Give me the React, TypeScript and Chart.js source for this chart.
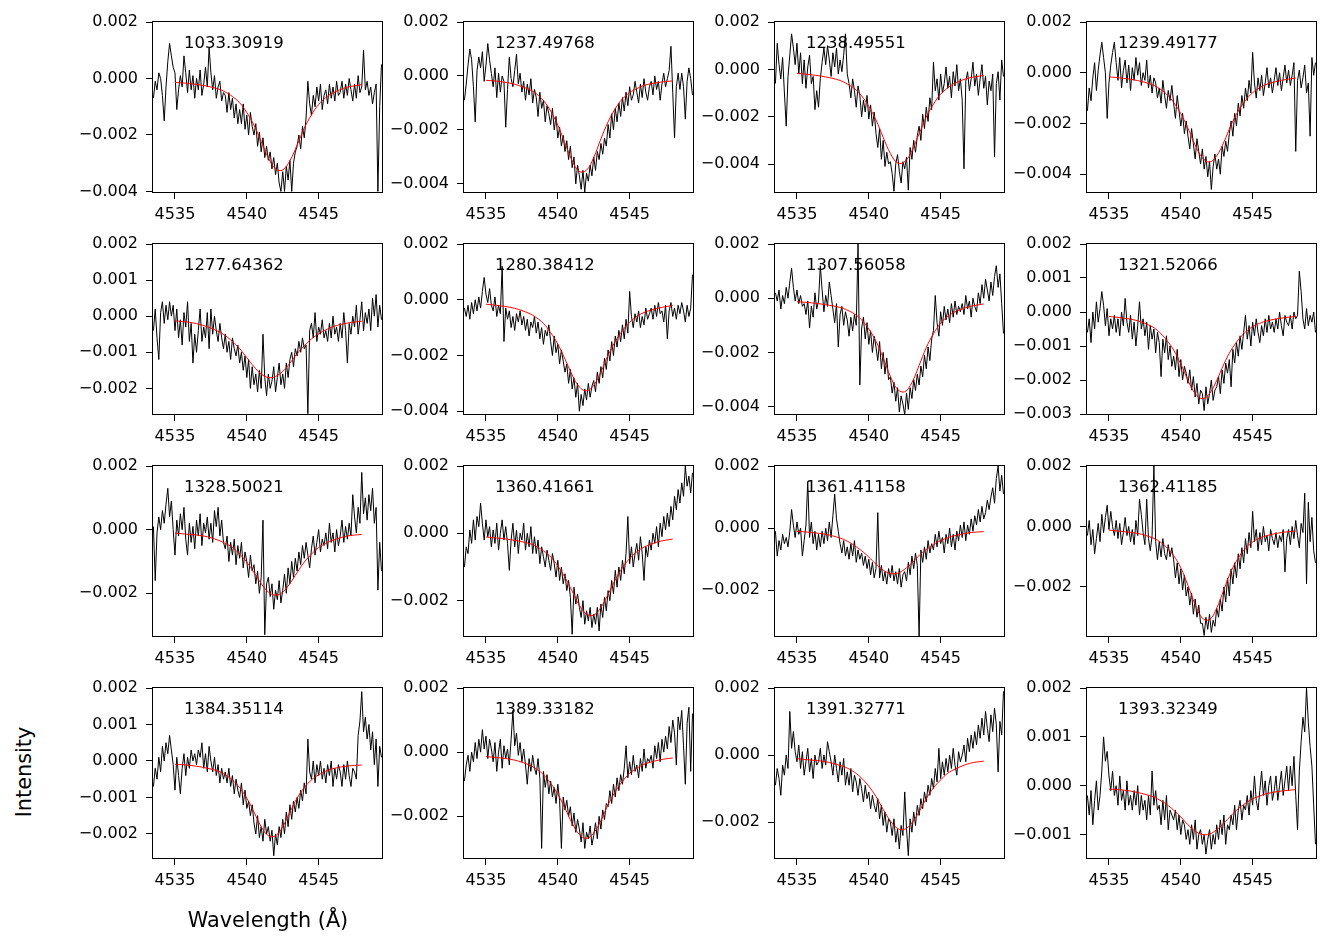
import React, { useEffect, useRef } from "react";
import { Chart, registerables } from "chart.js";

Chart.register(...registerables);

// ---------------- data ----------------
// wavelength grid of the observed spectra (Å)
const WAVE_START = 4533.5;
const WAVE_STEP = 0.125;
const X_MIN = 4533.47;
const X_MAX = 4549.41;
const X_TICKS = [4535, 4540, 4545];

// epochs shown in each panel
const EPOCHS = [
  "1033.30919", "1237.49768", "1238.49551", "1239.49177",
  "1277.64362", "1280.38412", "1307.56058", "1321.52066",
  "1328.50021", "1360.41661", "1361.41158", "1362.41185",
  "1384.35114", "1389.33182", "1391.32771", "1393.32349",
];

// lower y-limits of each panel (upper limit is 0.002 everywhere)
const Y_MINS = [
  -0.00402, -0.0043, -0.00518, -0.0047,
  -0.00271, -0.0041, -0.00427, -0.003,
  -0.00334, -0.00305, -0.00347, -0.00362,
  -0.00266, -0.0033, -0.00307, -0.00148,
];
const Y_MAX = 0.002;

const TICKS_A = [-0.004, -0.002, 0, 0.002];
const TICKS_B = [-0.002, -0.001, 0, 0.001, 0.002];
const TICKS_C = [-0.003, -0.002, -0.001, 0, 0.001, 0.002];
const TICKS_D = [-0.002, 0, 0.002];
const TICKS_E = [-0.001, 0, 0.001, 0.002];
const Y_TICK_SETS = [
  TICKS_A, TICKS_A, TICKS_A, TICKS_A,
  TICKS_B, TICKS_A, TICKS_A, TICKS_C,
  TICKS_D, TICKS_D, TICKS_D, TICKS_D,
  TICKS_B, TICKS_D, TICKS_D, TICKS_E,
];

// observed intensities, units of 1e-5
const SPEC_01 = [
  -70, -10, -40, 20, 0, -60, -150, -30,
  60, 124, 80, 40, 20, -110, -40, 10,
  -30, 80, 20, -50, 30, -40, 10, -70,
  0, -40, 30, -60, -20, 40, -30, 110,
  20, -40, 10, -70, -30, -10, -80, -50,
  -60, -120, -50, -110, -70, -140, -90, -160,
  -110, -160, -90, -180, -130, -200, -120, -170,
  -200, -160, -240, -190, -260, -210, -280, -240,
  -290, -260, -320, -280, -340, -300, -370, -400,
  -330, -400, -310, -360, -290, -400, -300, -260,
  -240, -200, -250, -170, -210, -140, -10, -90,
  -130, -60, -100, -30, -80, -20, -110, -60,
  -40, -90, -20, -70, -30, -80, -10, -60,
  -50, -10, -70, -20, -60, 0, -40, -80,
  -20, -70, 10, -50, -30, 100, -40, -10,
  -60, -30, -90, -50, -20, -400, -100, 50,
];
const SPEC_02 = [
  -90, -30, 40, 100, 60, -40, -170, 20,
  70, 30, 90, -20, 40, 120, 60, 10,
  -40, 30, -80, 10, -60, 0, -20, -190,
  -50, 70, -10, -40, 20, 80, -30, 10,
  -60, -20, -90, -30, -70, -10, -100, -50,
  -80, -150, -60, -120, -90, -170, -110, -140,
  -180, -120, -200, -150, -230, -190, -260, -220,
  -280, -240, -310, -260, -340, -300, -400, -330,
  -370, -420, -350, -430, -360, -390, -330, -370,
  -300, -350, -280, -310, -250, -290, -230, -260,
  -180, -230, -140, -200, -120, -170, -100, -150,
  -80, -130, -60, -110, -40, -90, -70, -20,
  -60, -100, -30, -80, -10, -60, -90, -40,
  -20, -70, 0, -50, -20, -90, -30, 10,
  -40, -10, 20, 110, -60, -230, -40, 10,
  -50, 10, -40, -160, -20, 30, -10, -70,
];
const SPEC_03 = [
  -60, 110, 20, -40, 50, -100, -240, -30,
  60, 150, 90, 20, 110, -20, 70, -60,
  40, -80, 10, 60, -60, -30, -170, -90,
  -160, -40, 30, 90, 20, 100, 40, -30,
  70, 10, 90, -20, 40, -10, 60, 150,
  -20, -60, -120, -40, -90, -160, -70, -110,
  -200, -130, -180, -110, -210, -150, -240, -180,
  -270, -330, -250, -380, -300, -410, -350, -400,
  -390, -440, -515, -400, -360, -430, -480, -390,
  -420, -370, -510, -330, -380, -300, -350, -280,
  -240, -300, -190, -250, -160, -220, -120, -170,
  30, -90, -40, -130, -20, -100, -60, 10,
  -80, -30, -120, -10, -70, 20, -90, -40,
  -130, -420, -50, -10, -90, -40, 30, -70,
  -20, -110, -40, 20, -80, -30, -150, -50,
  -90, -20, -370, -60, -10, -130, 40, -30,
];
const SPEC_04 = [
  -150, -60, -110, -20, 40, -70, 10, 70,
  120, 60, 0, -180, -40, 30, 80, 120,
  40, -30, 60, -60, 10, 50, -40, 30,
  -70, 20, -30, 60, -10, 40, -50, 0,
  -30, 50, -60, -10, -80, -20, -40, -100,
  -60, -120, -30, -90, -140, -70, -110, -50,
  -120, -180, -90, -150, -210, -160, -240, -190,
  -250, -300, -220, -280, -340, -260, -310, -360,
  -300, -380, -330, -410, -350, -460, -370, -320,
  -380, -340, -400, -290, -330, -270, -310, -240,
  -190, -250, -160, -210, -120, -170, -90, -140,
  -60, -110, -30, -80, 80, -40, -100, -20,
  -70, -10, -90, -40, 20, -60, -20, -80,
  -30, 20, -50, 0, -70, -20, 30, -40,
  10, -50, -10, 40, -310, -30, 10, -60,
  -20, 30, -80, -40, -250, 60, -10, 40,
];
const SPEC_05 = [
  -40, 20, -60, -120, 10, 40, -20, 30,
  -10, 40, 0, 30, -40, 20, -60, -10,
  -80, 10, -30, 40, -70, -20, -130, -50,
  -100, -40, 20, -70, -30, -60, 10, -90,
  20, -50, 0, -40, -70, -20, -60, -90,
  -50, -100, -70, -120, -60, -90, -110, -80,
  -130, -100, -150, -110, -170, -120, -200, -140,
  -190, -160, -210, -150, -200, -50, -170, -220,
  -160, -200, -180, -140, -210, -170, -130, -190,
  -160, -200, -130, -170, -120, -100, -140, -90,
  -110, -70, -100, -60, -90, -80, -270, -40,
  -20, -60, 10, -70, -30, -50, -10, -60,
  -40, -70, -20, -60, 0, -50, -30, -70,
  -20, -60, 10, -40, -130, -20, -50, 0,
  -30, 30, -50, -10, 40, -40, 10, -20,
  20, -40, 50, 0, 60, -30, 30, -10,
];
const SPEC_06 = [
  -30, -60, -20, -70, -10, -50, 0, -40,
  10, -30, 30, 80, 20, -10, 40, -20,
  -40, 10, -60, -20, -50, 120, -150, -30,
  -70, -40, -100, -60, -110, -50, -80, -40,
  -90, -60, -110, -70, -130, -80, -100, -60,
  -120, -80, -140, -100, -160, -110, -130, -90,
  -150, -200, -130, -190, -160, -230, -180, -220,
  -260, -230, -300, -250, -320, -280, -350, -300,
  -400, -340, -380, -320, -360, -300, -350, -310,
  -290, -330, -260, -300, -240, -280, -210, -250,
  -180, -220, -150, -200, -130, -170, -110, -150,
  -90, -140, -70, -120, 30, -60, -100, -50,
  -80, -40, -100, -60, -90, -30, -70, -50,
  -30, -70, -20, -60, -10, -50, -40, -80,
  -20, -140, -40, -10, -60, -30, -70, -20,
  -50, -10, -40, -80, -20, -60, -30, 90,
];
const SPEC_07 = [
  20, -10, 30, -40, 10, -20, 40, 0,
  60, 110, 40, -10, 30, -20, 10, -30,
  -20, -60, -10, -110, -30, -70, 20, -40,
  -10, 120, 30, -50, 10, -30, 60, 10,
  -40, -90, -20, -180, -60, -30, -100, -50,
  -80, -140, -70, -120, -60, -100, 200, -320,
  -110, -70, -150, -90, -170, -120, -200, -140,
  -180, -230, -160, -260, -200, -280, -220, -300,
  -290, -350, -310, -380, -330, -420, -360, -390,
  -430, -350, -410, -330, -370, -300, -340, -280,
  -320, -250, -290, -210, -260, -180, -230, -150,
  -120, 10, -90, -140, -50, -100, -30, -80,
  -40, -90, -20, -70, -10, -60, -30, -50,
  -20, -60, 10, -40, -10, -70, 0, -30,
  -50, 20, -20, 50, 0, 70, 30, -10,
  60, 10, 80, 120, 40, 90, -20, -130,
];
const SPEC_08 = [
  -60, -20, -90, 0, -50, 30, -30, 10,
  60, 20, -40, 10, -70, -20, -50, -10,
  -60, -20, -70, 0, -40, 40, -30, -60,
  -10, -80, -30, -100, -40, 30, -50, -20,
  -70, -30, -110, -40, -80, -50, -120, -60,
  -90, -190, -80, -120, -70, -140, -100, -160,
  -130, -170, -110, -190, -140, -200, -160, -180,
  -210, -170, -230, -190, -250, -210, -270, -230,
  -240, -290, -220, -270, -240, -200, -260, -230,
  -220, -190, -240, -170, -210, -150, -180, -140,
  -220, -110, -150, -90, -130, -70, -110, -60,
  -10, -80, -40, -100, -30, -70, -20, -60,
  -90, -40, -70, -20, -60, -10, -50, -30,
  -60, -20, -50, 0, -40, -70, -10, -30,
  -40, -10, -50, 0, -20, -10, 120, 60,
  -20, -50, 10, -40, -10, -30, 0, -60,
];
const SPEC_09 = [
  10, -160, -10, 40, 0, 60, 20, 80,
  130, 40, 90, 0, -80, 30, -20, 50,
  0, 70, -30, -80, 20, -40, 10, -60,
  30, -20, 50, -50, 20, -10, 40, -30,
  20, -40, 60, 10, 70, -20, 30, -40,
  -60, -20, -100, -40, -80, -30, -110, -50,
  -90, -40, -120, -70, -100, -150, -80, -130,
  -110, -170, -130, -200, -150, 30, -330, -170,
  -150, -210, -170, -250, -190, -220, -160, -230,
  -190, -140, -200, -120, -170, -100, -150, -90,
  -130, -70, -110, -50, -90, -40, -80, -120,
  -60, -20, -80, -40, 0, -70, -30, -50,
  -10, -60, 20, -40, -10, -70, 0, -50,
  -20, 30, -40, 10, -30, 20, -20, 110,
  40, -10, 70, 20, 180, 50, 100, 30,
  110, 60, 130, 20, 70, -190, -40, -130,
];
const SPEC_10 = [
  -100, -40, -60, 10, -30, 40, -20, 50,
  20, 90, 30, -20, 40, -10, 20, -40,
  10, -30, 30, -50, 0, 40, -20, 20,
  -30, -110, -20, 30, -40, 10, -60, 0,
  -20, 30, -50, 0, -40, 20, -60, -10,
  -60, -20, -90, -40, -70, -100, -50, -80,
  -110, -60, -90, -130, -80, -140, -100, -150,
  -120, -170, -140, -190, -300, -160, -210, -180,
  -220, -250, -200, -270, -230, -260, -220, -280,
  -240, -270, -220, -290, -210, -250, -190, -230,
  -170, -200, -140, -180, -110, -160, -100, -140,
  -80, -120, -60, 50, -90, -40, -100, -60,
  -30, -80, -10, -60, -140, -40, -70, -20,
  -50, 0, -30, 20, -40, 30, -10, 50,
  10, 60, 20, 80, 40, 110, 70, 130,
  90, 150, 110, 200, 140, 170, 120, 180,
];
const SPEC_11 = [
  -10, -90, -40, -70, -20, -50, -30, -60,
  -10, 60, 10, -30, 20, -20, 0, -90,
  -40, 10, 150, -30, 20, -50, -10, -70,
  -20, -60, -10, -50, 0, -40, 20, -30,
  40, 110, 30, -10, -50, -80, -40, -90,
  -60, -100, -50, -90, -40, -110, -70, -100,
  -80, -120, -90, -130, -100, -150, -110, -160,
  -130, 50, -160, -120, -170, -140, -180, -130,
  -160, -120, -170, -140, -180, -130, -190, -150,
  -140, -170, -110, -150, -90, -130, -80, -120,
  -350, -70, -110, -60, -100, -40, -80, -50,
  -70, -20, -60, -10, -50, -30, -80, -20,
  -50, 0, -60, -20, -70, -10, -40, 10,
  -30, 20, -40, 10, -20, 30, -10, 40,
  10, 60, 20, 70, 30, 50, 90, 60,
  100, 130, 80, 160, 200, 120, 170, 110,
];
const SPEC_12 = [
  -30, 20, -60, -10, -90, -40, 10, -50,
  40, -20, 30, 70, -10, 50, 0, -30,
  20, -40, 10, -60, -20, 30, -30, 0,
  -50, -10, -60, 20, -30, 90, 40, -20,
  -60, 90, -40, -80, -30, 200, -50, -110,
  -50, -100, -40, -90, -110, -60, -100, -70,
  -110, -170, -120, -190, -140, -210, -160, -230,
  -200, -260, -220, -290, -240, -300, -260, -320,
  -320, -360, -300, -340, -290, -350, -310, -330,
  -270, -300, -240, -280, -200, -250, -170, -230,
  -140, -190, -120, -170, -90, -140, -70, -120,
  -40, -90, -20, -70, 50, -50, -10, -80,
  -20, -60, 0, -50, -30, -80, -10, -40,
  -60, -20, -70, -30, -50, -10, -150, -40,
  -10, -60, 0, -40, 20, -30, -70, 10,
  -20, 110, -190, 80, -50, 30, -80, -120,
];
const SPEC_13 = [
  -70, -20, -50, 10, -30, 40, 0, 50,
  20, 70, 30, -10, -80, 10, -40, -90,
  -20, 20, -40, 10, -20, 30, 0, 20,
  -10, 30, 10, 50, -20, 20, -30, 40,
  0, -30, 10, -40, -10, -60, -20, -50,
  -30, -60, -20, -70, -40, -90, -50, -80,
  -100, -60, -120, -80, -130, -110, -150, -120,
  -170, -200, -150, -210, -180, -220, -160, -200,
  -180, -220, -190, -260, -200, -230, -180, -210,
  -160, -200, -140, -180, -120, -160, -110, -140,
  -100, -130, -80, -110, -60, -90, 60, -30,
  -50, 0, -60, -10, -40, 0, -50, -20,
  -60, -10, -40, 0, -70, -20, -50, -10,
  -30, -70, -10, -50, 0, -40, -70, -20,
  -30, -50, 70, 110, 190, 80, 120, 60,
  100, 30, 80, -10, 60, -70, 40, 10,
];
const SPEC_14 = [
  -90, -40, -10, -60, 0, -30, 30, -20,
  40, 0, 70, 10, 50, -20, 40, 10,
  -30, 30, -60, 0, 40, -50, 20, -20,
  10, -40, 40, 130, 20, 60, -10, 30,
  -30, 10, -40, -100, -20, -60, -10, -50,
  -70, -20, -80, -300, -60, -110, -70, -130,
  -90, -140, -110, -160, -100, -150, -300, -140,
  -180, -150, -200, -170, -230, -190, -250, -210,
  -240, -280, -220, -300, -250, -270, -230, -290,
  -260, -220, -270, -200, -240, -180, -210, -160,
  -170, -120, -160, -100, -140, -80, -120, -70,
  -100, -50, 20, -80, -30, -70, -10, -60,
  -40, -80, -20, -60, 10, -50, -20, -30,
  -10, -50, 20, -20, 30, -30, 40, 0,
  50, 10, 80, 30, 100, 60, -40, 110,
  70, 130, 20, -100, 90, 140, -60, 120,
];
const SPEC_15 = [
  -90, -40, -70, -120, -30, -60, 0, -40,
  130, 20, 70, 10, -20, 30, -40, 10,
  -60, -20, 20, -50, -10, -70, 0, -30,
  -20, 20, -40, 0, -30, 40, 10, -20,
  -60, 0, -40, -80, -20, -60, -10, -90,
  -50, -90, -40, -110, -60, -80, -120, -70,
  -100, -140, -90, -130, -110, -160, -120, -150,
  -170, -130, -190, -150, -210, -170, -230, -190,
  -200, -240, -190, -260, -220, -280, -210, -240,
  -110, -220, -300, -190, -230, -170, -210, -150,
  -180, -130, -160, -110, -140, -90, -120, -70,
  -100, -40, -80, 20, -70, -20, -60, -10,
  -50, 0, -40, 20, -30, -60, 10, -20,
  0, 30, -20, 50, 10, 60, 20, 70,
  30, 90, 50, 110, 60, 130, 80, 40,
  120, 70, 140, 90, -50, 100, 60, 190,
];
const SPEC_16 = [
  -20, -60, -10, -80, -30, 10, -50, -20,
  30, 100, 50, 70, 20, -10, 30, -20,
  0, -40, 20, -30, -10, -50, 10, -40,
  -20, -50, -10, -40, 0, -60, -20, -50,
  -30, -70, -20, -60, 30, -40, -10, -50,
  -40, -80, -30, -70, -20, -90, -50, -60,
  -70, -50, -90, -60, -100, -70, -80, -110,
  -90, -120, -80, -110, -70, -130, -100, -90,
  -120, -100, -140, -110, -90, -130, -100, -120,
  -80, -110, -70, -100, -60, -120, -80, -90,
  -60, -80, -40, -90, -50, -30, -70, -40,
  -50, -20, -60, -10, -40, 20, -30, -50,
  -10, 30, -20, 10, -40, 0, 20, -30,
  -10, 20, -30, 0, 30, -20, 10, 40,
  -10, 40, 0, 60, -20, -90, 30, 90,
  140, 110, 200, 130, 80, 40, -40, -120,
];

// fitted profiles (red), units of 1e-5, sampled at FIT_WAVES
const FIT_WAVES = [
  4535, 4536, 4537, 4538, 4538.5, 4539, 4539.5, 4540, 4540.5, 4541, 4541.5,
  4542, 4542.5, 4543, 4543.5, 4544, 4544.5, 4545, 4545.5, 4546, 4547, 4548,
];
const FIT_01 = [-14, -18, -25, -37, -48, -64, -86, -121, -165, -223, -281, -320, -324, -291, -236, -176, -129, -92, -68, -51, -31, -22];
const FIT_02 = [-16, -21, -31, -50, -66, -91, -130, -182, -249, -314, -354, -349, -302, -233, -170, -121, -85, -62, -47, -35, -24, -18];
const FIT_03 = [-17, -23, -32, -47, -62, -82, -112, -157, -214, -287, -355, -395, -390, -343, -272, -202, -147, -105, -78, -58, -36, -26];
const FIT_04 = [-16, -22, -31, -47, -62, -84, -117, -161, -219, -285, -335, -352, -327, -273, -206, -151, -109, -79, -59, -45, -30, -21];
const FIT_05 = [-13, -17, -26, -42, -54, -70, -90, -115, -140, -160, -170, -167, -153, -130, -104, -82, -63, -49, -38, -29, -19, -14];
const FIT_06 = [-16, -22, -31, -49, -64, -85, -118, -159, -213, -270, -313, -327, -307, -259, -199, -150, -111, -81, -60, -46, -30, -21];
const FIT_07 = [-13, -17, -24, -34, -44, -58, -80, -114, -159, -220, -288, -336, -345, -311, -248, -182, -131, -92, -67, -50, -31, -21];
const FIT_08 = [-13, -18, -26, -43, -59, -82, -112, -153, -201, -240, -255, -240, -201, -153, -112, -82, -59, -43, -33, -26, -18, -13];
const FIT_09 = [-11, -15, -20, -33, -43, -56, -77, -102, -135, -169, -196, -206, -196, -169, -135, -102, -77, -56, -43, -33, -20, -15];
const FIT_10 = [-11, -15, -21, -30, -39, -52, -70, -97, -131, -172, -214, -240, -243, -220, -181, -138, -102, -75, -55, -41, -25, -17];
const FIT_11 = [-10, -14, -20, -32, -42, -56, -73, -93, -116, -135, -146, -145, -132, -112, -88, -69, -53, -40, -31, -24, -15, -11];
const FIT_12 = [-12, -17, -23, -37, -49, -68, -96, -137, -195, -258, -303, -308, -270, -208, -148, -104, -72, -51, -38, -30, -20, -15];
const FIT_13 = [-9, -12, -18, -28, -38, -52, -73, -102, -140, -180, -205, -205, -180, -140, -102, -73, -52, -38, -28, -21, -14, -11];
const FIT_14 = [-14, -18, -25, -40, -53, -70, -97, -131, -175, -222, -257, -269, -252, -213, -164, -123, -91, -66, -50, -38, -25, -18];
const FIT_15 = [-11, -15, -20, -31, -39, -51, -69, -93, -124, -162, -196, -219, -221, -202, -169, -130, -98, -74, -54, -42, -25, -18];
const FIT_16 = [-7, -9, -14, -22, -29, -38, -50, -64, -80, -93, -100, -99, -90, -77, -61, -47, -36, -27, -21, -16, -11, -8];

const SPECTRA = [
  SPEC_01, SPEC_02, SPEC_03, SPEC_04, SPEC_05, SPEC_06, SPEC_07, SPEC_08,
  SPEC_09, SPEC_10, SPEC_11, SPEC_12, SPEC_13, SPEC_14, SPEC_15, SPEC_16,
];
const FITS = [
  FIT_01, FIT_02, FIT_03, FIT_04, FIT_05, FIT_06, FIT_07, FIT_08,
  FIT_09, FIT_10, FIT_11, FIT_12, FIT_13, FIT_14, FIT_15, FIT_16,
];
const UNIT = 1e-5;

// ---------------- layout ----------------
const PLOT_LEFT = [153, 464, 775, 1087];
const PLOT_TOP = [22, 244, 466, 688];
const PLOT_W = 229;
const PLOT_H = 170;
const AXW = 82; // room for y axis
const AXH = 38; // room for x axis
const PT = 22; // must exceed half label height + tick padding
const PR = 12;
const CW = AXW + PLOT_W + PR;
const CH = PT + PLOT_H + AXH;

const FONT = "'DejaVu Sans', sans-serif";
const TICK_FONT_SIZE = 16;
const LABEL_FONT_SIZE = 16.5;
const TITLE_FONT_SIZE = 20.8;

function fmtY(v: number): string {
  const s = Math.abs(v) < 1e-12 ? "0.000" : v.toFixed(3);
  return s.replace("-", "\u2212");
}

function Panel({ idx }: { idx: number }) {
  const ref = useRef<HTMLCanvasElement>(null);
  const row = Math.floor(idx / 4);
  const col = idx % 4;

  useEffect(() => {
    const canvas = ref.current;
    if (!canvas) return;
    const spec = SPECTRA[idx].map((v, i) => ({ x: WAVE_START + i * WAVE_STEP, y: v * UNIT }));
    const fit = FITS[idx].map((v, i) => ({ x: FIT_WAVES[i], y: v * UNIT }));
    const yTicks = Y_TICK_SETS[idx];
    const label = EPOCHS[idx];

    const framePlugin = {
      id: "frameLabel" + idx,
      afterDraw(chart: any) {
        const { ctx, chartArea: a } = chart;
        ctx.save();
        ctx.strokeStyle = "#000";
        ctx.lineWidth = 1;
        ctx.strokeRect(
          Math.round(a.left) - 0.5,
          Math.round(a.top) - 0.5,
          Math.round(a.right - a.left) + 1,
          Math.round(a.bottom - a.top) + 1
        );
        ctx.fillStyle = "#000";
        ctx.font = `${LABEL_FONT_SIZE}px ${FONT}`;
        ctx.textBaseline = "middle";
        ctx.textAlign = "left";
        ctx.fillText(label, a.left + 31, a.top + 22);
        ctx.restore();
      },
    };

    const chart = new Chart(canvas, {
      type: "line",
      data: {
        datasets: [
          {
            data: fit,
            borderColor: "#ff0000",
            borderWidth: 1,
            pointRadius: 0,
            tension: 0.4,
            fill: false,
            order: 0,
          },
          {
            data: spec,
            borderColor: "#000000",
            borderWidth: 1,
            pointRadius: 0,
            tension: 0,
            fill: false,
            order: 1,
          },
        ],
      },
      options: {
        responsive: false,
        animation: false,
        events: [],
        layout: { padding: { top: PT, right: PR, left: 0, bottom: 0 } },
        plugins: {
          legend: { display: false },
          tooltip: { enabled: false },
          title: { display: false },
        },
        scales: {
          x: {
            type: "linear",
            min: X_MIN,
            max: X_MAX,
            bounds: "data",
            afterBuildTicks: (s: any) => {
              s.ticks = X_TICKS.map((v) => ({ value: v }));
            },
            afterFit: (s: any) => {
              s.height = AXH;
            },
            grid: {
              display: true,
              drawOnChartArea: false,
              drawTicks: true,
              tickLength: 7,
              tickWidth: 1,
              tickColor: "#000",
            },
            border: { display: false },
            ticks: {
              color: "#000",
              font: { family: FONT, size: TICK_FONT_SIZE },
              padding: 6,
              maxRotation: 0,
              autoSkip: false,
              callback: (v: any) => String(v),
            },
          },
          y: {
            type: "linear",
            min: Y_MINS[idx],
            max: Y_MAX,
            bounds: "data",
            afterBuildTicks: (s: any) => {
              s.ticks = yTicks.map((v) => ({ value: v }));
            },
            afterFit: (s: any) => {
              s.width = AXW;
            },
            grid: {
              display: true,
              drawOnChartArea: false,
              drawTicks: true,
              tickLength: 7,
              tickWidth: 1,
              tickColor: "#000",
            },
            border: { display: false },
            ticks: {
              color: "#000",
              font: { family: FONT, size: TICK_FONT_SIZE },
              padding: 8,
              autoSkip: false,
              callback: (v: any) => fmtY(Number(v)),
            },
          },
        },
      },
      plugins: [framePlugin],
    } as any);
    return () => chart.destroy();
  }, [idx]);

  return (
    <canvas
      ref={ref}
      width={CW}
      height={CH}
      style={{
        position: "absolute",
        left: PLOT_LEFT[col] - AXW,
        top: PLOT_TOP[row] - PT,
        width: CW,
        height: CH,
      }}
    />
  );
}

export default function App() {
  const panels = [];
  for (let i = 0; i < 16; i++) panels.push(<Panel key={i} idx={i} />);
  return (
    <div
      style={{
        position: "absolute",
        left: 0,
        top: 0,
        width: 1338,
        height: 952,
        background: "#fff",
        overflow: "hidden",
        fontFamily: FONT,
      }}
    >
      {panels}
      <div
        style={{
          position: "absolute",
          left: 268,
          top: 920,
          transform: "translate(-50%, -50%)",
          fontSize: TITLE_FONT_SIZE,
          whiteSpace: "nowrap",
          color: "#000",
        }}
      >
        Wavelength (Å)
      </div>
      <div
        style={{
          position: "absolute",
          left: 24,
          top: 772,
          transform: "translate(-50%, -50%) rotate(-90deg)",
          fontSize: TITLE_FONT_SIZE,
          whiteSpace: "nowrap",
          color: "#000",
        }}
      >
        Intensity
      </div>
    </div>
  );
}
